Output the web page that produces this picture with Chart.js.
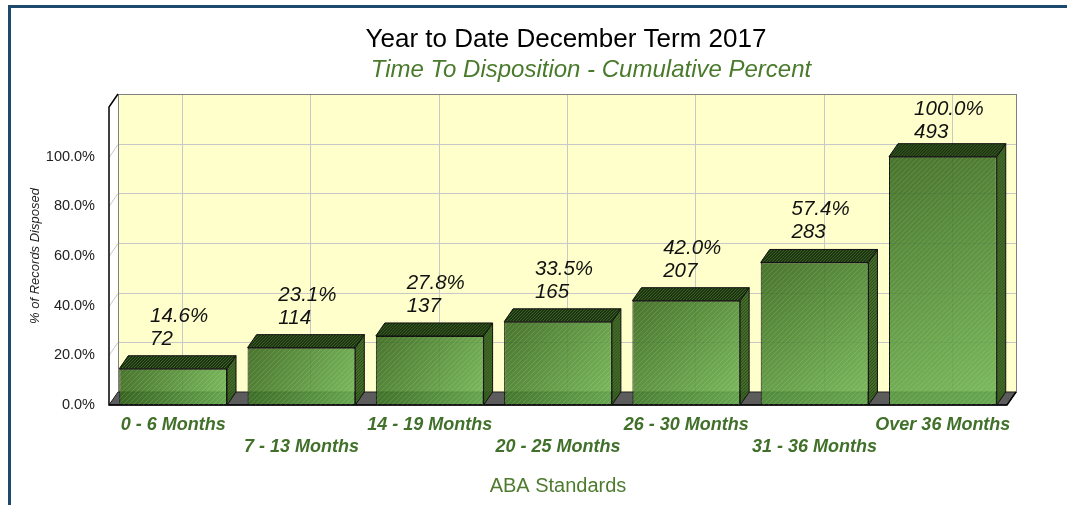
<!DOCTYPE html>
<html>
<head>
<meta charset="utf-8">
<title>Time To Disposition</title>
<script src="https://cdn.jsdelivr.net/npm/chart.js@4.4.1/dist/chart.umd.min.js"></script>
<style>
  html, body { margin: 0; padding: 0; background: #fff; }
  #wrap { position: relative; width: 1067px; height: 505px; overflow: hidden; }
  #frame {
    position: absolute; left: 8px; top: 5px; right: 0; bottom: 0;
    border-top: 3px solid #1d4a6c; border-left: 3px solid #1d4a6c;
    pointer-events: none;
  }
</style>
</head>
<body>
<div id="wrap">
  <canvas id="chart" width="1067" height="505"></canvas>
  <div id="frame"></div>
</div>
<script>
const titleText = "Year to Date December Term 2017";
const subtitleText = "Time To Disposition - Cumulative Percent";
const xTitle = "ABA Standards";
const yTitle = "% of Records Disposed";

const categories = ["0 - 6 Months", "7 - 13 Months", "14 - 19 Months", "20 - 25 Months",
  "26 - 30 Months", "31 - 36 Months", "Over 36 Months"];
const percents = [14.6, 23.1, 27.8, 33.5, 42.0, 57.4, 100.0];
const counts = [72, 114, 137, 165, 207, 283, 493];
const yTicks = [0, 20, 40, 60, 80, 100];
const yMax = 120;

// depth of the fake 3d box
const DX = 9, DY = 13;
const FONT = '"Liberation Sans", Arial, sans-serif';
Chart.defaults.font.family = FONT;

function poly(ctx, pts) {
  ctx.beginPath();
  pts.forEach((p, i) => i ? ctx.lineTo(p[0], p[1]) : ctx.moveTo(p[0], p[1]));
  ctx.closePath();
}

// diagonal "/" lines clipped to a polygon
function hatch(ctx, pts, step, color) {
  const xs = pts.map(p => p[0]), ys = pts.map(p => p[1]);
  const x0 = Math.min(...xs), x1 = Math.max(...xs);
  const y0 = Math.min(...ys), y1 = Math.max(...ys);
  const h = y1 - y0;
  ctx.save();
  poly(ctx, pts);
  ctx.clip();
  ctx.strokeStyle = color;
  ctx.lineWidth = 1;
  ctx.beginPath();
  for (let x = x0 - h; x < x1 + step; x += step) {
    ctx.moveTo(x, y1);
    ctx.lineTo(x + h, y0);
  }
  ctx.stroke();
  ctx.restore();
}

function frontGradient(c) {
  const chart = c.chart;
  if (!chart.chartArea || c.dataIndex == null) return "rgba(80,140,50,0.88)";
  const xs = chart.scales.x, ys = chart.scales.y;
  const cx = xs.getPixelForValue(c.dataIndex);
  const hw = xs.width / categories.length * 0.84 / 2;
  const top = ys.getPixelForValue(percents[c.dataIndex]);
  const base = ys.getPixelForValue(0);
  const g = chart.ctx.createLinearGradient(cx - hw, top, cx + hw, base);
  g.addColorStop(0, "rgba(47,97,22,0.88)");
  g.addColorStop(1, "rgba(106,179,79,0.88)");
  return g;
}

const box3d = {
  id: "box3d",
  beforeDatasetsDraw(chart) {
    const { ctx, chartArea: a, scales: { x, y } } = chart;
    ctx.save();
    // left side wall
    ctx.fillStyle = "#fff";
    poly(ctx, [[a.left, a.bottom], [a.left, a.top], [a.left + DX, a.top - DY], [a.left + DX, a.bottom - DY]]);
    ctx.fill();
    // back wall
    ctx.fillStyle = "#ffffcc";
    ctx.fillRect(a.left + DX, a.top - DY, a.right - a.left, a.bottom - a.top);
    ctx.strokeStyle = "#c8c8c8";
    ctx.lineWidth = 1;
    yTicks.forEach(v => {
      const py = Math.round(y.getPixelForValue(v)) + 0.5;
      ctx.beginPath();
      ctx.moveTo(a.left, py);
      ctx.lineTo(a.left + DX, py - DY);
      ctx.lineTo(a.right + DX, py - DY);
      ctx.stroke();
    });
    categories.forEach((c, i) => {
      const px = Math.round(x.getPixelForValue(i) + DX) + 0.5;
      ctx.beginPath();
      ctx.moveTo(px, a.top - DY);
      ctx.lineTo(px, a.bottom - DY);
      ctx.stroke();
    });
    ctx.strokeStyle = "#808080";
    ctx.strokeRect(Math.round(a.left + DX) + 0.5, Math.round(a.top - DY) + 0.5,
      a.right - a.left, a.bottom - a.top);
    // floor
    ctx.fillStyle = "#5c5c5c";
    ctx.strokeStyle = "#222";
    poly(ctx, [[a.left, a.bottom], [a.right, a.bottom], [a.right + DX, a.bottom - DY], [a.left + DX, a.bottom - DY]]);
    ctx.fill();
    ctx.stroke();
    // front axis edges
    ctx.strokeStyle = "#000";
    ctx.lineWidth = 1.5;
    ctx.beginPath();
    ctx.moveTo(a.left + DX, a.top - DY);
    ctx.lineTo(a.left, a.top);
    ctx.lineTo(a.left, a.bottom);
    ctx.lineTo(a.right, a.bottom);
    ctx.lineTo(a.right + DX, a.bottom - DY);
    ctx.stroke();
    ctx.restore();
  },
  afterDatasetsDraw(chart) {
    const { ctx, chartArea: a } = chart;
    const meta = chart.getDatasetMeta(0);
    ctx.save();
    meta.data.forEach((bar, i) => {
      const { x: cx, y: top, base, width } = bar.getProps(["x", "y", "base", "width"], true);
      const l = cx - width / 2, r = cx + width / 2;
      hatch(ctx, [[l, top], [r, top], [r, base], [l, base]], 5, "rgba(255,255,255,0.14)");

      const side = [[r, top], [r + DX, top - DY], [r + DX, base - DY], [r, base]];
      poly(ctx, side);
      ctx.fillStyle = "rgba(60,102,34,0.95)";
      ctx.fill();
      hatch(ctx, side, 3, "rgba(20,45,10,0.5)");
      poly(ctx, side);
      ctx.strokeStyle = "#111";
      ctx.lineWidth = 1;
      ctx.stroke();

      const cap = [[l, top], [r, top], [r + DX, top - DY], [l + DX, top - DY]];
      poly(ctx, cap);
      ctx.fillStyle = "#1c3311";
      ctx.fill();
      hatch(ctx, cap, 3, "rgba(85,135,55,0.6)");
      poly(ctx, cap);
      ctx.stroke();

      // value labels
      ctx.font = "italic 20.5px " + FONT;
      ctx.fillStyle = "#111";
      ctx.textAlign = "left";
      ctx.textBaseline = "alphabetic";
      const line1 = percents[i].toFixed(1) + "%";
      const line2 = String(counts[i]);
      const w = ctx.measureText(line1).width;
      const lx = cx + 6 - w / 2;
      const b2 = Math.max(top - DY - 11, a.top - DY + 44);
      ctx.fillText(line1, lx, b2 - 23);
      ctx.fillText(line2, lx, b2);
    });
    ctx.restore();
  }
};

const titles = {
  id: "titles",
  afterDraw(chart) {
    const ctx = chart.ctx;
    ctx.save();
    ctx.textAlign = "center";
    ctx.textBaseline = "alphabetic";
    ctx.font = "26px " + FONT;
    ctx.fillStyle = "#000";
    ctx.fillText(titleText, 566, 47);
    ctx.font = "italic 24px " + FONT;
    ctx.fillStyle = "#4a7a2c";
    ctx.fillText(subtitleText, 591, 77);
    ctx.restore();
  }
};

new Chart(document.getElementById("chart"), {
  type: "bar",
  data: {
    labels: categories,
    datasets: [{
      data: percents,
      backgroundColor: frontGradient,
      borderColor: "#111",
      borderWidth: 1,
      borderSkipped: false,
      categoryPercentage: 1,
      barPercentage: 0.84
    }]
  },
  options: {
    responsive: false,
    animation: false,
    devicePixelRatio: 1,
    layout: { padding: { left: 0, right: 60, top: 107, bottom: 7 } },
    plugins: {
      legend: { display: false },
      title: { display: false },
      tooltip: { enabled: false }
    },
    scales: {
      x: {
        grid: { display: false, drawTicks: false },
        border: { display: false },
        ticks: {
          autoSkip: false,
          maxRotation: 0,
          minRotation: 0,
          padding: 10,
          color: "#41702a",
          font: { size: 18, style: "italic", weight: "bold", lineHeight: 1.17 },
          callback: (v, i) => i % 2 ? ["", categories[i]] : categories[i]
        },
        title: {
          display: true,
          text: xTitle,
          color: "#4e7b2f",
          font: { size: 20 },
          padding: { top: 0, bottom: 0 }
        },
        afterFit: s => { s.height = 93; }
      },
      y: {
        min: 0,
        max: yMax,
        grid: { display: false, drawTicks: false },
        border: { display: false },
        afterBuildTicks: s => { s.ticks = yTicks.map(v => ({ value: v })); },
        ticks: {
          padding: 14,
          color: "#222",
          font: { size: 14.5 },
          callback: v => v.toFixed(1) + "%"
        },
        title: {
          display: true,
          text: yTitle,
          color: "#222",
          font: { size: 13, style: "italic" },
          padding: { top: 28, bottom: 0 }
        },
        afterFit: s => { s.width = 109; }
      }
    }
  },
  plugins: [box3d, titles]
});
</script>
</body>
</html>
